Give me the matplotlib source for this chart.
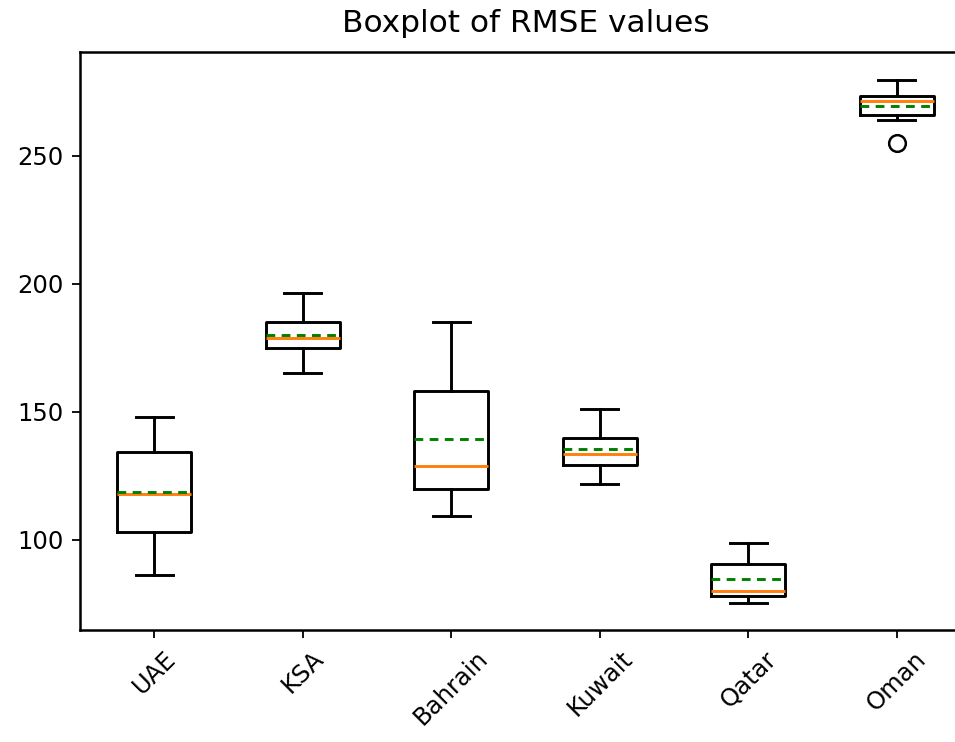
import matplotlib
matplotlib.use("Agg")
import matplotlib.pyplot as plt

countries = ["UAE", "KSA", "Bahrain", "Kuwait", "Qatar", "Oman"]
whislo = [86.3, 165.2, 109.4, 121.9, 75.4, 264.1]
q1 = [103.1, 175.0, 119.9, 129.3, 78.1, 266.0]
medians = [118.0, 178.9, 128.9, 133.6, 80.1, 271.5]
means = [118.7, 180.1, 139.5, 135.5, 84.8, 269.5]
q3 = [134.4, 185.2, 158.2, 139.8, 90.6, 273.4]
whishi = [148.0, 196.5, 185.2, 151.2, 98.8, 279.7]
fliers = [[], [], [], [], [], [255.1]]

stats = []
for i, name in enumerate(countries):
    stats.append(dict(label=name, whislo=whislo[i], q1=q1[i], med=medians[i],
                      mean=means[i], q3=q3[i], whishi=whishi[i], fliers=fliers[i]))

lw = 2.1
fig = plt.figure(figsize=(9.55, 7.42), dpi=100)
ax = fig.add_axes([0.0838, 0.151, 0.933, 0.779])
ax.bxp(stats, showmeans=True, meanline=True,
       boxprops=dict(linewidth=lw, color="black"),
       whiskerprops=dict(linewidth=lw, color="black"),
       capprops=dict(linewidth=lw, color="black"),
       medianprops=dict(linewidth=lw, color="#ff7f0e"),
       meanprops=dict(linewidth=lw, color="green", linestyle=(0, (3, 2.2))),
       flierprops=dict(marker="o", markersize=12, markeredgewidth=1.8,
                       markerfacecolor="none", markeredgecolor="black"))
ax.set_ylim(64.8, 290.6)
ax.set_yticks([100, 150, 200, 250])
ax.tick_params(labelsize=17.5, width=1.3, length=6, pad=6)
for s in ax.spines.values():
    s.set_linewidth(1.8)
plt.setp(ax.get_xticklabels(), rotation=45)
ax.set_title("Boxplot of RMSE values", fontsize=22.5, pad=14)
fig.savefig("out.png", dpi=100)
